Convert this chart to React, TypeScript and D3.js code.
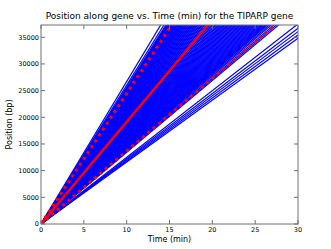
import React from "react";
import * as d3 from "d3";

const width = 331;
const height = 249;
const margin = { top: 25, right: 33, bottom: 25, left: 41 };

// x axis: time in minutes, y axis: position along gene (bp)
const timeMax = 30;
const geneLength = 37300;
const xTicks = [0, 5, 10, 15, 20, 25, 30];
const yTicks = [0, 5000, 10000, 15000, 20000, 25000, 30000, 35000];

// elongation speeds (bp/min) for the individual traces
const blueSpeeds = [
  2670, 2600, 2560, 2540, 2528, 2515, 2500, 2488, 2470, 2458, 2440, 2428,
  2410, 2398, 2380, 2366, 2350, 2338, 2320, 2305, 2292, 2275, 2262, 2248,
  2230, 2218, 2200, 2188, 2170, 2158, 2140, 2126, 2110, 2098, 2080, 2066,
  2050, 2038, 2020, 2008, 1990, 1978, 1960, 1948, 1930, 1918, 1900, 1888,
  1870, 1858, 1840, 1828, 1812, 1800, 1785, 1772, 1760, 1746, 1735, 1722,
  1710, 1698, 1686, 1674, 1662, 1650, 1640, 1628, 1616, 1605, 1594, 1583,
  1572, 1561, 1550, 1540, 1530, 1520, 1510, 1500, 1490, 1480, 1470, 1461,
  1452, 1444, 1436, 1428, 1420, 1412, 1400, 1388, 1372, 1358, 1345, 1250,
  1223, 1202, 1181, 1160,
];

// mean speed and mean +/- one standard deviation
const meanSpeed = 1913;
const sdSpeeds = [2445, 1366];

export default function App() {
  const innerW = width - margin.left - margin.right;
  const innerH = height - margin.top - margin.bottom;

  const x = d3.scaleLinear().domain([0, timeMax]).range([margin.left, margin.left + innerW]);
  const y = d3.scaleLinear().domain([0, geneLength]).range([margin.top + innerH, margin.top]);

  const line = d3
    .line<[number, number]>()
    .x((d) => x(d[0]))
    .y((d) => y(d[1]));

  // a trace starts at the origin and runs at a constant speed
  const trace = (speed: number) =>
    line([
      [0, 0],
      [timeMax, speed * timeMax],
    ]) || "";

  const x0 = margin.left;
  const x1 = margin.left + innerW;
  const y0 = margin.top + innerH;
  const y1 = margin.top;
  const axisColor = "#707070";
  const font = "DejaVu Sans, sans-serif";

  return (
    <svg
      width={width}
      height={height}
      style={{ position: "fixed", left: 0, top: 0, background: "#fff" }}
    >
      <defs>
        <clipPath id="plot-area">
          <rect x={x0} y={y1} width={innerW} height={innerH} />
        </clipPath>
      </defs>
      <rect width={width} height={height} fill="#fff" />

      <g clipPath="url(#plot-area)">
        {blueSpeeds.map((s, i) => (
          <path key={i} d={trace(s)} fill="none" stroke="#0000ff" strokeWidth={1.2} />
        ))}
        <path d={trace(meanSpeed)} fill="none" stroke="#ff0000" strokeWidth={2.5} />
        {sdSpeeds.map((s, i) => (
          <path
            key={i}
            d={trace(s)}
            fill="none"
            stroke="#ff0000"
            strokeWidth={3}
            strokeDasharray="3,4"
          />
        ))}
      </g>

      {/* frame */}
      <rect x={x0} y={y1} width={innerW} height={innerH} fill="none" stroke={axisColor} strokeWidth={1} />

      {/* x ticks, inside on bottom and top */}
      {xTicks.map((t) => (
        <g key={"x" + t}>
          <line x1={x(t)} x2={x(t)} y1={y0} y2={y0 - 4} stroke={axisColor} />
          <line x1={x(t)} x2={x(t)} y1={y1} y2={y1 + 4} stroke={axisColor} />
          <text
            x={x(t)}
            y={y0 + 7.5}
            textAnchor="middle"
            fontFamily={font}
            fontSize={6.5}
            fill="#000"
          >
            {t}
          </text>
        </g>
      ))}

      {/* y ticks, inside on left and right */}
      {yTicks.map((t) => (
        <g key={"y" + t}>
          <line x1={x0} x2={x0 + 4} y1={y(t)} y2={y(t)} stroke={axisColor} />
          <line x1={x1} x2={x1 - 4} y1={y(t)} y2={y(t)} stroke={axisColor} />
          <text
            x={x0 - 2}
            y={y(t) + 2.4}
            textAnchor="end"
            fontFamily={font}
            fontSize={6.5}
            fill="#000"
          >
            {t}
          </text>
        </g>
      ))}

      <text
        x={(x0 + x1) / 2}
        y={19}
        textAnchor="middle"
        fontFamily={font}
        fontSize={9}
        fill="#000"
      >
        Position along gene vs. Time (min) for the TIPARP gene
      </text>
      <text
        x={(x0 + x1) / 2}
        y={242}
        textAnchor="middle"
        fontFamily={font}
        fontSize={8}
        fill="#000"
      >
        Time (min)
      </text>
      <text
        transform={`translate(12,${(y0 + y1) / 2}) rotate(-90)`}
        textAnchor="middle"
        fontFamily={font}
        fontSize={8}
        fill="#000"
      >
        Position (bp)
      </text>
    </svg>
  );
}
